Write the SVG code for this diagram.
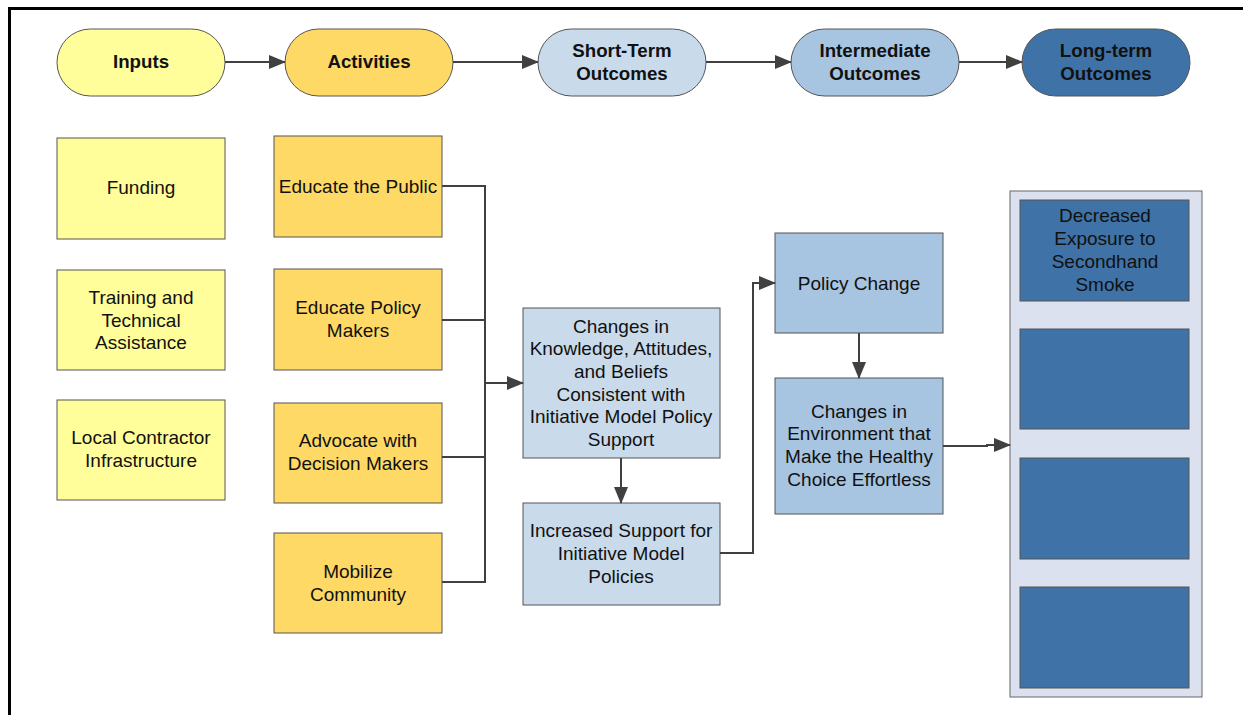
<svg xmlns="http://www.w3.org/2000/svg" width="1243" height="715" viewBox="0 0 1243 715">
<defs>
<style>
.t{font-family:"Liberation Sans",Arial,sans-serif;font-size:19px;fill:#111;text-anchor:middle}
.b{font-weight:bold;font-size:18.7px}
.box{stroke:#555;stroke-width:1}
.in{fill:#FFFE9A}
.act{fill:#FFD966}
.st{fill:#C9DAEB}
.im{fill:#A7C4E0}
.lt{fill:#3F72A6}
.con{fill:none;stroke:#404040;stroke-width:2}
</style>
<marker id="ah" markerWidth="17" markerHeight="14" refX="16" refY="7" orient="auto" markerUnits="userSpaceOnUse">
<path d="M0,0 L17,7 L0,14 Z" fill="#404040"/>
</marker>
</defs>
<rect width="1243" height="715" fill="#fff"/>
<path d="M9.5 715 V8.5 H1243" fill="none" stroke="#000" stroke-width="3"/>

<g id="pill-inputs"><rect class="box in" x="57" y="29" width="168" height="67" rx="33.5"/><text class="t b" x="141" y="68">Inputs</text></g>
<g id="pill-activities"><rect class="box act" x="285" y="29" width="168" height="67" rx="33.5"/><text class="t b" x="369" y="68">Activities</text></g>
<g id="pill-short"><rect class="box st" x="538" y="29" width="168" height="67" rx="33.5"/><text class="t b" x="622" y="57">Short-Term</text><text class="t b" x="622" y="80">Outcomes</text></g>
<g id="pill-intermediate"><rect class="box im" x="791" y="29" width="168" height="67" rx="33.5"/><text class="t b" x="875" y="57">Intermediate</text><text class="t b" x="875" y="80">Outcomes</text></g>
<g id="pill-long"><rect class="box lt" x="1022" y="29" width="168" height="67" rx="33.5"/><text class="t b" x="1106" y="57">Long-term</text><text class="t b" x="1106" y="80">Outcomes</text></g>

<g id="funding"><rect class="box in" x="57" y="138" width="168" height="101"/><text class="t" x="141" y="194">Funding</text></g>
<g id="training"><rect class="box in" x="57" y="270" width="168" height="100"/><text class="t" x="141" y="304">Training and</text><text class="t" x="141" y="327">Technical</text><text class="t" x="141" y="349">Assistance</text></g>
<g id="local"><rect class="box in" x="57" y="400" width="168" height="100"/><text class="t" x="141" y="444">Local Contractor</text><text class="t" x="141" y="467">Infrastructure</text></g>

<g id="educate-public"><rect class="box act" x="274" y="136" width="168" height="101"/><text class="t" x="358" y="193">Educate the Public</text></g>
<g id="educate-policy"><rect class="box act" x="274" y="269" width="168" height="101"/><text class="t" x="358" y="314">Educate Policy</text><text class="t" x="358" y="337">Makers</text></g>
<g id="advocate"><rect class="box act" x="274" y="403" width="168" height="100"/><text class="t" x="358" y="447">Advocate with</text><text class="t" x="358" y="470">Decision Makers</text></g>
<g id="mobilize"><rect class="box act" x="274" y="533" width="168" height="100"/><text class="t" x="358" y="578">Mobilize</text><text class="t" x="358" y="601">Community</text></g>

<g id="changes-kab"><rect class="box st" x="523" y="308" width="197" height="150"/>
<text class="t" x="621" y="333">Changes in</text><text class="t" x="621" y="355">Knowledge, Attitudes,</text><text class="t" x="621" y="378">and Beliefs</text><text class="t" x="621" y="401">Consistent with</text><text class="t" x="621" y="423">Initiative Model Policy</text><text class="t" x="621" y="446">Support</text></g>
<g id="increased-support"><rect class="box st" x="523" y="503" width="197" height="102"/>
<text class="t" x="621" y="537">Increased Support for</text><text class="t" x="621" y="560">Initiative Model</text><text class="t" x="621" y="583">Policies</text></g>

<g id="policy-change"><rect class="box im" x="775" y="233" width="168" height="100"/><text class="t" x="859" y="290">Policy Change</text></g>
<g id="changes-env"><rect class="box im" x="775" y="378" width="168" height="136"/>
<text class="t" x="859" y="418">Changes in</text><text class="t" x="859" y="440">Environment that</text><text class="t" x="859" y="463">Make the Healthy</text><text class="t" x="859" y="486">Choice Effortless</text></g>

<g id="long-term-container"><rect x="1010" y="191" width="192" height="506" fill="#DBE1EE" stroke="#666" stroke-width="1"/>
<g id="decreased-exposure"><rect class="box lt" x="1020" y="200" width="169" height="101"/>
<text class="t" x="1105" y="222">Decreased</text><text class="t" x="1105" y="245">Exposure to</text><text class="t" x="1105" y="268">Secondhand</text><text class="t" x="1105" y="291">Smoke</text></g>
<g id="lt-box-2"><rect class="box lt" x="1020" y="329" width="169" height="100"/></g>
<g id="lt-box-3"><rect class="box lt" x="1020" y="458" width="169" height="101"/></g>
<g id="lt-box-4"><rect class="box lt" x="1020" y="587" width="169" height="101"/></g>
</g>

<g id="connectors">
<line class="con" x1="225" y1="62" x2="285" y2="62" marker-end="url(#ah)"/>
<line class="con" x1="453" y1="62" x2="538" y2="62" marker-end="url(#ah)"/>
<line class="con" x1="706" y1="62" x2="791" y2="62" marker-end="url(#ah)"/>
<line class="con" x1="959" y1="62" x2="1022" y2="62" marker-end="url(#ah)"/>
<path class="con" d="M442 186 H485 V582 H442"/>
<path class="con" d="M442 320 H485"/>
<path class="con" d="M442 457 H485"/>
<line class="con" x1="485" y1="383" x2="523" y2="383" marker-end="url(#ah)"/>
<line class="con" x1="621" y1="458" x2="621" y2="503" marker-end="url(#ah)"/>
<path class="con" d="M720 553 H753 V283 H775" marker-end="url(#ah)"/>
<line class="con" x1="859" y1="333" x2="859" y2="378" marker-end="url(#ah)"/>
<path class="con" d="M943 446 H987 V445 H1010" marker-end="url(#ah)"/>
</g>
</svg>
